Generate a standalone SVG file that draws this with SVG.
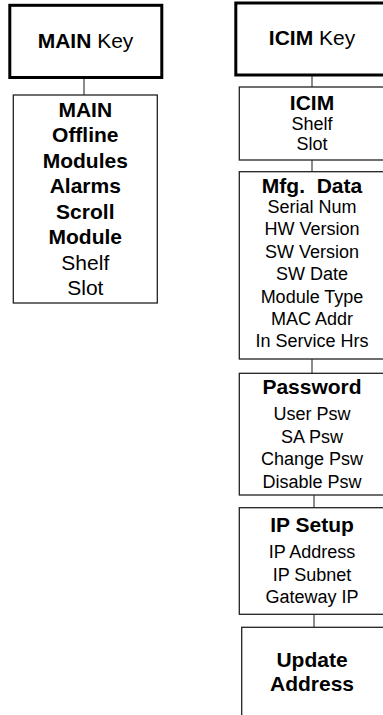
<svg xmlns="http://www.w3.org/2000/svg" width="383" height="715" viewBox="0 0 383 715">
<style>
.key{fill:#fff;stroke:#000;stroke-width:3}
.box{fill:#fff;stroke:#222;stroke-width:1.3}
.conn{stroke:#666;stroke-width:1.5;fill:none}
text{font-family:"Liberation Sans",Arial,sans-serif;fill:#000;text-anchor:middle}
.h{font-weight:bold;font-size:21px}
.r{font-size:21px}
.i{font-size:18px}
</style>
<rect width="383" height="715" fill="#fff"/>
<g id="connectors">
<line class="conn" x1="84" y1="78" x2="84" y2="95"/>
<line class="conn" x1="312" y1="75" x2="312" y2="87"/>
<line class="conn" x1="312" y1="160" x2="312" y2="172"/>
<line class="conn" x1="312" y1="359" x2="312" y2="373"/>
<line class="conn" x1="314" y1="495" x2="314" y2="508"/>
<line class="conn" x1="314" y1="614" x2="314" y2="627"/>
</g>
<g id="main-key">
<rect class="key" x="9.8" y="5.3" width="152" height="72.2"/>
<text x="85.5" y="48.3"><tspan class="h">MAIN</tspan><tspan class="r"> Key</tspan></text>
</g>
<g id="main-menu">
<rect class="box" x="13.3" y="95" width="144" height="208"/>
<text class="h" x="85.3" y="116.5">MAIN</text>
<text class="h" x="85.3" y="142">Offline</text>
<text class="h" x="85.3" y="167.5">Modules</text>
<text class="h" x="85.3" y="193">Alarms</text>
<text class="h" x="85.3" y="218.5">Scroll</text>
<text class="h" x="85.3" y="244">Module</text>
<text class="r" x="85.3" y="269.5">Shelf</text>
<text class="r" x="85.3" y="295">Slot</text>
</g>
<g id="icim-key">
<rect class="key" x="235.8" y="3" width="152" height="72"/>
<text x="312" y="45"><tspan class="h">ICIM</tspan><tspan class="r"> Key</tspan></text>
</g>
<g id="icim">
<rect class="box" x="239.3" y="87" width="146" height="73"/>
<text class="h" x="312" y="110">ICIM</text>
<text class="i" x="312" y="130">Shelf</text>
<text class="i" x="312" y="149.5">Slot</text>
</g>
<g id="mfg-data">
<rect class="box" x="239.3" y="171.7" width="146" height="187.3"/>
<text class="h" x="312" y="193.3" xml:space="preserve">Mfg.  Data</text>
<text class="i" x="312" y="212.7">Serial Num</text>
<text class="i" x="312" y="235">HW Version</text>
<text class="i" x="312" y="258">SW Version</text>
<text class="i" x="312" y="280.3">SW Date</text>
<text class="i" x="312" y="302.5">Module Type</text>
<text class="i" x="312" y="325">MAC Addr</text>
<text class="i" x="312" y="347">In Service Hrs</text>
</g>
<g id="password">
<rect class="box" x="239.3" y="373.3" width="146" height="121.7"/>
<text class="h" x="312" y="394">Password</text>
<text class="i" x="312" y="420">User Psw</text>
<text class="i" x="312" y="442.5">SA Psw</text>
<text class="i" x="312" y="465">Change Psw</text>
<text class="i" x="312" y="487.7">Disable Psw</text>
</g>
<g id="ip-setup">
<rect class="box" x="239.3" y="507.7" width="146" height="106.6"/>
<text class="h" x="312" y="531.7">IP Setup</text>
<text class="i" x="312" y="558.3">IP Address</text>
<text class="i" x="312" y="580.7">IP Subnet</text>
<text class="i" x="312" y="603.3">Gateway IP</text>
</g>
<g id="update-address">
<rect class="box" x="241.7" y="627.3" width="146" height="100"/>
<text class="h" x="312" y="666.7">Update</text>
<text class="h" x="312" y="690.7">Address</text>
</g>
</svg>
